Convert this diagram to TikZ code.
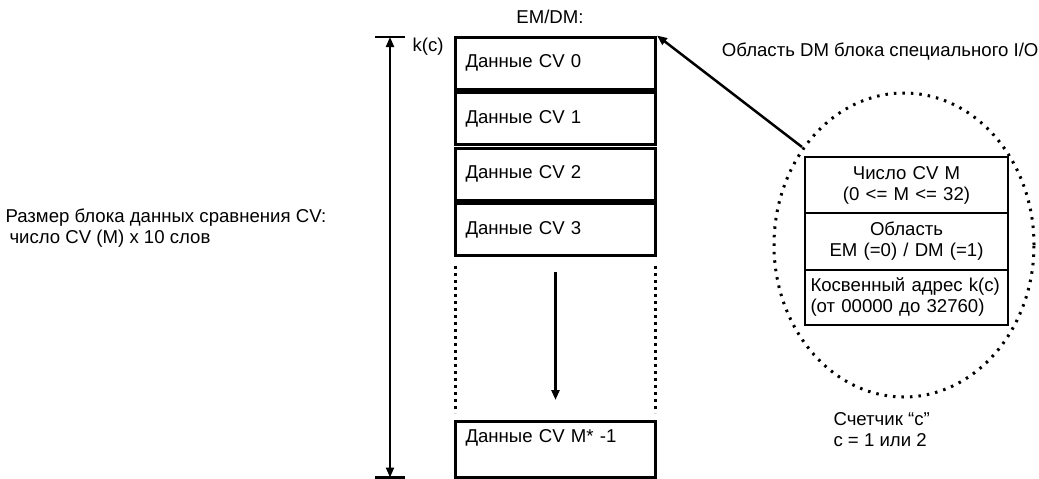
\documentclass[tikz,border=0pt]{standalone}
\usepackage{fontspec}
\setmainfont{Liberation Sans}
\usetikzlibrary{positioning,arrows.meta,shapes.geometric}

\begin{document}
\begin{tikzpicture}[
x=1pt, y=-1pt,
node distance=0.5pt,
every node/.style={
font=\fontsize{18.6}{21}\selectfont
},
arrow/.style={-{Triangle[length=10pt,width=8pt]}, line width=2.5pt}
]

\useasboundingbox (0,0) rectangle (1039,479);

% =====================================================
% Styles
% =====================================================

\tikzstyle{cvbox} =
[rectangle, draw,
line width=3pt,
minimum height=52pt,
text width=180pt,
inner xsep=10pt,
align=left]

\tikzstyle{infobox} =
[rectangle, draw,
line width=2.5pt,
outer sep=0pt,
minimum width=203pt,
minimum height=56pt,
text width=192pt,
inner xsep=5.5pt,
align=center]

\tikzstyle{dots} =
[line width=3pt,
dash pattern=on 2.5pt off 6pt]

% =====================================================
% Nodes
% =====================================================

\node (emdm) at (550,17) {EM/DM:};

\node (cv0) [cvbox, anchor=north] at (555.5,35.5)
{Данные CV 0};

\node (cv1) [cvbox, below=of cv0]
{Данные CV 1};

\node (cv2) [cvbox, below=of cv1]
{Данные CV 2};

\node (cv3) [cvbox, below=of cv2]
{Данные CV 3};

\node (cvlast) [cvbox, anchor=south, text height=13pt, text depth=27pt, inner ysep=8pt] at (555.5,479)
{Данные CV M* -1};

\coordinate (dimtop) at (390,37);
\coordinate (dimbot) at (390,477.5);

\node (kc) at (428,47) {k(c)};

\node (blocksize) [anchor=west, align=left] at (2,228)
{Размер блока данных сравнения CV:\\\hspace*{4pt}число CV (M) x 10 слов};

\node (dmarea) [anchor=east] at (1042,52)
{Область DM блока специального I/O};

\node (ring) [ellipse, draw, dots, minimum width=260pt, minimum height=304pt] at (904,245) {};

\node (cnt) [infobox, anchor=north] at (906.5,157)
{Число CV M\\(0 <= M <= 32)};

\node (area) [infobox, below=0pt of cnt, minimum height=57pt]
{Область\\EM (=0) / DM (=1)};

\node (addr) [infobox, below=0pt of area, minimum height=55pt, align=left]
{Косвенный адрес k(c)\\(от 00000 до 32760)};

\node (counter) [anchor=west, align=left] at (830,430)
{Счетчик “c”\\c = 1 или 2};

% =====================================================
% Arrows
% =====================================================

\draw [line width=2.5pt] ([xshift=-15pt]dimtop) -- ([xshift=15pt]dimtop);
\draw [line width=2.5pt] ([xshift=-15pt]dimbot) -- ([xshift=15pt]dimbot);
\draw [arrow, {Triangle[length=10pt,width=8pt]}-{Triangle[length=10pt,width=8pt]}, line width=2pt] (dimtop) -- (dimbot);

\draw [dots, dash pattern=on 3pt off 4pt] ([shift={(1.5pt,-9pt)}]cv3.south west) -- ([shift={(1.5pt,7pt)}]cvlast.north west);
\draw [dots, dash pattern=on 3pt off 4pt] ([shift={(-1.5pt,-9pt)}]cv3.south east) -- ([shift={(-1.5pt,7pt)}]cvlast.north east);

\draw [arrow] ([yshift=-15pt]cv3.south) -- ([yshift=20pt]cvlast.north);

\draw [arrow] ([shift={(-3pt,10pt)}]cnt.north west) -- (cv0.north east);

\end{tikzpicture}
\end{document}
